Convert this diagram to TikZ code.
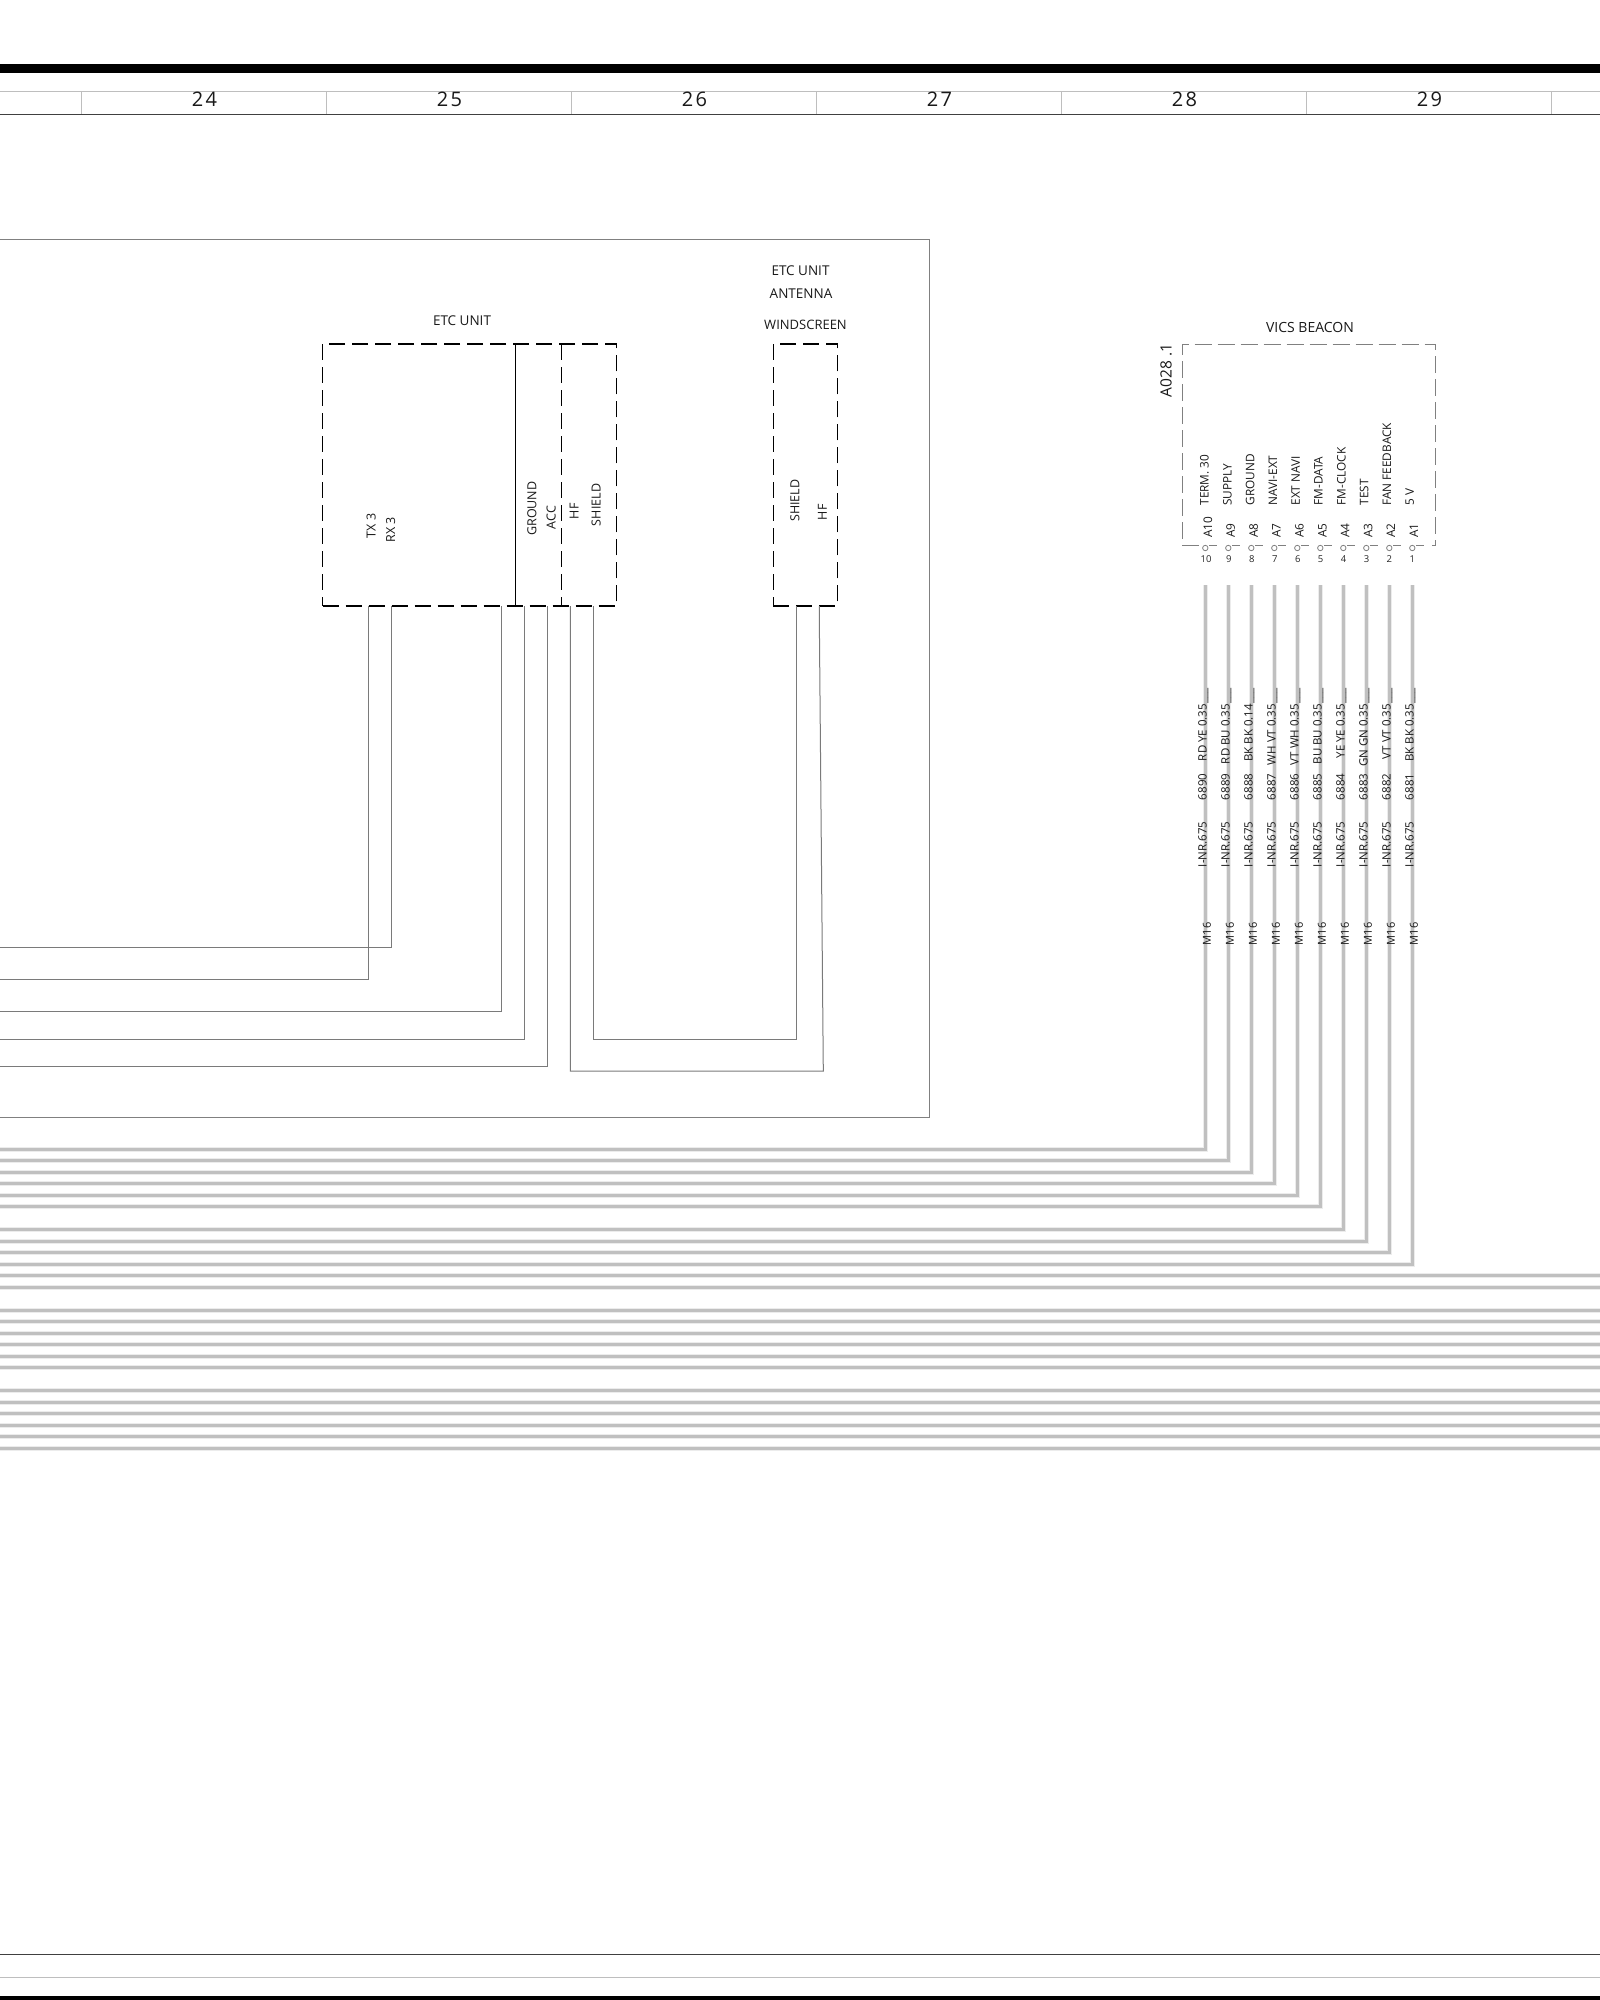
\documentclass[tikz,border=0pt]{standalone}
\usepackage{fontspec}
\setmainfont{Open Sans}
\newfontfamily\rulerfont[LetterSpace=12]{Open Sans}
\definecolor{wirec}{HTML}{7A7A7A}
\definecolor{harn}{HTML}{C0C0C0}
\definecolor{harnhalo}{HTML}{ECECEC}
\definecolor{rulel}{HTML}{BEBEBE}
\definecolor{ruled}{HTML}{404040}
\definecolor{vicsc}{HTML}{808080}
\definecolor{framec}{HTML}{808080}
\tikzset{
  sig/.style={draw=wirec,line width=1pt,line join=miter},
  harness/.style={draw=harn,line width=3.2pt,line join=miter,preaction={draw=harnhalo,line width=5pt}},
  dbox/.style={draw=black,line width=1.05pt,dash pattern=on 16pt off 7pt,inner sep=0pt,outer sep=0pt},
  lab/.style={inner sep=0pt,outer sep=0pt,font=\fontsize{13.5pt}{14pt}\selectfont,text=black!90},
  rlab/.style={inner sep=0pt,outer sep=0pt,rotate=90,anchor=base west,font=\fontsize{12.5pt}{13pt}\selectfont,text=black!90},
  slab/.style={rlab,font=\fontsize{11.8pt}{12pt}\selectfont},
  clab/.style={inner sep=0pt,outer sep=0pt,rotate=90,anchor=base east,font=\fontsize{11.5pt}{12pt}\selectfont,text=black!90},
  rulernum/.style={inner sep=0pt,outer sep=0pt,font=\rulerfont\fontsize{20pt}{21pt}\selectfont,text=black!90},
  pinc/.style={circle,draw=vicsc,line width=0.8pt,minimum size=5.4pt,inner sep=0pt,outer sep=0pt},
}
\begin{document}
\begin{tikzpicture}[x=1pt,y=-1pt]
\useasboundingbox (0,0) rectangle (1600,2000);
\fill[white] (0,0) rectangle (1600,2000);
% bands
\fill[black] (0,64) rectangle (1600,73);
\fill[black] (0,1995.7) rectangle (1600,2000);
% ruler
\draw[rulel,line width=1.1pt] (0,91.3) -- (1600,91.3);
\foreach \x in {81.6,326.6,571.6,816.6,1061.6,1306.6,1551.6}
  \draw[rulel,line width=0.9pt] (\x,91.3) -- (\x,114.3);
\draw[ruled,line width=1.1pt] (0,114.3) -- (1600,114.3);
\foreach \n/\x in {24/204.5,25/449.5,26/694.5,27/939.5,28/1184.5,29/1429.5}
  \node[rulernum] (ruler\n) at (\x,99.5) {\n};
\draw[ruled,line width=1.1pt] (0,1954.3) -- (1600,1954.3);
\draw[rulel,line width=1.1pt] (0,1977.3) -- (1600,1977.3);
% frame
\draw[framec,line width=1pt] (0,239) -- (929.3,239) -- (929.3,1117.3) -- (0,1117.3);
% ETC boxes
\node[dbox,minimum width=294.3pt,minimum height=262pt] (etc) at (469.65,475) {};
\coordinate (etcsolidT) at (515.4,344);
\coordinate (etcsolidB) at (515.4,606);
\draw[black,line width=1.2pt] (etcsolidT) -- (etcsolidB);
\coordinate (etcdashT) at (561.4,344);
\coordinate (etcdashB) at (561.4,606);
\draw[black,line width=1.05pt,dash pattern=on 16pt off 7pt] (etcdashT) -- (etcdashB);
\node[dbox,minimum width=64.3pt,minimum height=262pt] (ant) at (805.35,475) {};
% titles
\node[lab] (tEtc) at (462,321) {ETC UNIT};
\node[lab] (tEtcA) at (800.5,270.7) {ETC UNIT};
\node[lab] (tAnt) at (801,294) {ANTENNA};
\node[lab,font=\fontsize{13pt}{14pt}\selectfont] (tWind) at (805.5,325) {WINDSCREEN};
\node[lab,font=\fontsize{14pt}{15pt}\selectfont] (tVics) at (1310,327.7) {VICS BEACON};
% box pin labels
\node[rlab] (lTx) at (375.7,538) {TX 3};
\node[rlab] (lRx) at (395,542.7) {RX 3};
\node[rlab] (lGnd) at (536.3,535.7) {GROUND};
\node[rlab] (lAcc) at (555.7,529) {ACC};
\node[rlab] (lHf) at (578.6,519) {HF};
\node[rlab] (lSh) at (600.7,526) {SHIELD};
\node[rlab] (lShA) at (799.3,521.7) {SHIELD};
\node[rlab] (lHfA) at (826.8,520) {HF};
% etc wires
\coordinate (sTx) at (368.7,606);  \coordinate (eTx) at (0,979.3);
\coordinate (sRx) at (391.7,606);  \coordinate (eRx) at (0,947.3);
\coordinate (sP) at (501.7,606);   \coordinate (eP) at (0,1011.3);
\coordinate (sG) at (524.7,606);   \coordinate (eG) at (0,1039.3);
\coordinate (sA) at (547.3,606);   \coordinate (eA) at (0,1066.3);
\draw[sig] (sTx) |- (eTx);
\draw[sig] (sRx) |- (eRx);
\draw[sig] (sP) |- (eP);
\draw[sig] (sG) |- (eG);
\draw[sig] (sA) |- (eA);
\coordinate (sHf) at (570.3,606);
\coordinate (sSh) at (593.3,606);
\coordinate (aSh) at (796.3,606);
\coordinate (aHf) at (819.3,606);
\coordinate (aHfk) at (819.5,640);
\coordinate (aHfb) at (823.3,1071);
\draw[sig] (sSh) -- (593.3,1039.3) -- (796.3,1039.3) -- (aSh);
\draw[sig] (sHf) -- (570.3,1071) -- (aHfb) -- (aHfk) -- (aHf);
% VICS box
\node[inner sep=0pt,outer sep=0pt,minimum width=253pt,minimum height=201pt] (vics) at (1308.8,444.5) {};
\coordinate (vl) at (1199,545);
\coordinate (vr) at (1432,545);
\draw[vicsc,line width=1pt,dash pattern=on 17pt off 6pt] (vl) -- (vics.south west) -- (vics.north west) -- (vics.north east) -- (vics.south east) -- (vr);
\node[inner sep=0pt,outer sep=0pt,rotate=90,anchor=base west,font=\fontsize{15.5pt}{16pt}\selectfont,text=black!90] (a028) at (1171.5,397.3) {A028 .1};
% pins and harness
\foreach \k/\pin/\nm/\num/\cab/\col/\yy in {
  0/A10/TERM. 30/10/6890/RD YE 0.35/1149.3,
  1/A9/SUPPLY/9/6889/RD BU 0.35/1160.6,
  2/A8/GROUND/8/6888/BK BK 0.14/1172.3,
  3/A7/NAVI-EXT/7/6887/WH VT 0.35/1183.3,
  4/A6/EXT NAVI/6/6886/VT WH 0.35/1195.3,
  5/A5/FM-DATA/5/6885/BU BU 0.35/1206.3,
  6/A4/FM-CLOCK/4/6884/YE YE 0.35/1229.3,
  7/A3/TEST/3/6883/GN GN 0.35/1241.3,
  8/A2/FAN FEEDBACK/2/6882/VT VT 0.35/1252.3,
  9/A1/5 V/1/6881/BK BK 0.35/1264.3}{
  \pgfmathsetmacro{\wx}{1205.3+23*\k}
  \pgfmathsetmacro{\nx}{1208.7+22.8*\k}
  \pgfmathsetmacro{\ax}{1212+22.9*\k}
  \pgfmathsetmacro{\tx}{1206+22.93*\k}
  \pgfmathsetmacro{\bx}{\wx+1.2}
  \pgfmathsetmacro{\mx}{\wx+5.5}
  \node[slab] (name\k) at (\nx,505.5) {\nm};
  \node[slab] (pin\k) at (\ax,537.7) {\pin};
  \node[pinc] (circ\k) at (\wx,548) {};
  \coordinate (da\k) at (\wx+3.7,545);
  \coordinate (db\k) at (\wx+11.3,545);
  \draw[vicsc,line width=1pt] (da\k) -- (db\k);
  \node[inner sep=0pt,outer sep=0pt,font=\fontsize{9.5pt}{10pt}\selectfont,text=black!85] (num\k) at (\tx,558.7) {\num};
  \coordinate (wtop\k) at (\wx,585);
  \coordinate (wbot\k) at (0,\yy);
  \draw[harness] (wtop\k) |- (wbot\k);
  \node[clab,anchor=base west] (cInr\k) at (\bx,867) {I-NR.675};
  \node[clab,anchor=base west] (cNum\k) at (\bx,800) {\cab};
  \node[clab] (cCol\k) at (\bx,688.5) {\col\_\_\_};
  \node[clab,anchor=base west,font=\fontsize{11pt}{12pt}\selectfont] (m\k) at (\mx,945) {M16};
}
% through lines
\foreach \i/\yy in {1/1275.3,2/1287.3,3/1310.3,4/1321.3,5/1333.3,6/1344.3,7/1356.3,8/1367.3,9/1390.3,10/1402.3,11/1413.3,12/1425.3,13/1436.3,14/1448.3}{
  \coordinate (tl\i) at (0,\yy);
  \coordinate (tr\i) at (1600,\yy);
  \draw[harness] (tl\i) -- (tr\i);
}
\end{tikzpicture}
\end{document}
